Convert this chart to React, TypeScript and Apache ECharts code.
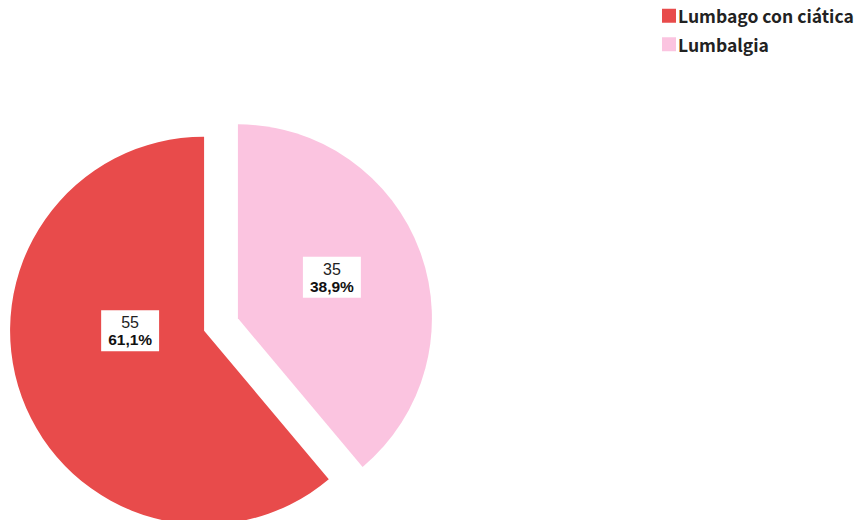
import React, { useEffect, useRef } from "react";
import * as echarts from "echarts";

const categories = ["Lumbalgia", "Lumbago con ciática"];
const values = [35, 55];
const colors = ["#FBC4E0", "#E84B4B"];
const legendOrder = ["Lumbago con ciática", "Lumbalgia"];

export default function App() {
  const ref = useRef<HTMLDivElement>(null);
  useEffect(() => {
    if (!ref.current) return;
    const chart = echarts.init(ref.current, undefined, { renderer: "svg" });
    const labelShift: [number, number][] = [
      [0, -7],
      [20, -34],
    ];
    chart.setOption({
      animation: false,
      legend: {
        data: legendOrder,
        orient: "vertical",
        left: 662,
        top: 7,
        padding: 0,
        itemWidth: 14,
        itemHeight: 14,
        itemGap: 11,
        icon: "rect",
        selectedMode: false,
        textStyle: {
          fontFamily: "Noto Sans CJK JP",
          fontWeight: "bold",
          fontSize: 17.5,
          color: "#222",
          padding: [6, 0, 0, -3],
        },
      },
      series: [
        {
          type: "pie",
          center: [221, 324.5],
          radius: [0, 194],
          startAngle: 90,
          clockwise: true,
          selectedMode: "multiple",
          selectedOffset: 18,
          silent: true,
          emphasis: { disabled: true },
          labelLine: { show: false },
          labelLayout: (p: any) => ({
            dx: labelShift[p.dataIndex][0],
            dy: labelShift[p.dataIndex][1],
          }),
          data: categories.map((name, i) => ({
            name,
            value: values[i],
            selected: true,
            itemStyle: { color: colors[i] },
            select: { itemStyle: { color: colors[i] } },
          })),
          label: {
            show: true,
            position: "inside",
            backgroundColor: "#fff",
            padding: [4, 7, 3, 7],
            formatter: (p: any) =>
              `{a|${p.value}}\n{b|${p.percent.toFixed(1).replace(".", ",")}%}`,
            rich: {
              a: {
                fontFamily: "Liberation Sans",
                fontSize: 16,
                color: "#222",
                lineHeight: 17,
                align: "center",
              },
              b: {
                fontFamily: "Liberation Sans",
                fontSize: 15.5,
                fontWeight: "bold",
                color: "#111",
                lineHeight: 17,
                align: "center",
              },
            },
          },
        },
      ],
    });
    return () => chart.dispose();
  }, []);
  return (
    <div
      ref={ref}
      style={{ position: "fixed", left: 0, top: 0, width: 857, height: 520, background: "#fff" }}
    />
  );
}
